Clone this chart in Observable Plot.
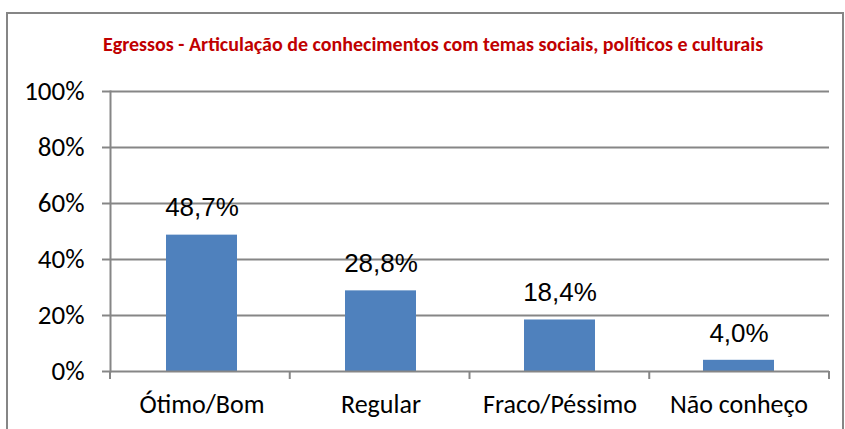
<!DOCTYPE html>
<html><head><meta charset="utf-8">
<script src="https://cdn.jsdelivr.net/npm/d3@7"></script>
<script src="https://cdn.jsdelivr.net/npm/@observablehq/plot@0.6"></script>
<style>body{margin:0;background:#fff}</style>
</head><body><div id="chart"></div>
<script>
const title = "Egressos - Articulação de conhecimentos com temas sociais, políticos e culturais";
const categories = ["Ótimo/Bom", "Regular", "Fraco/Péssimo", "Não conheço"];
const values = [0.487, 0.288, 0.184, 0.040];
const valueLabels = ["48,7%", "28,8%", "18,4%", "4,0%"];
const yTicks = [0, 0.2, 0.4, 0.6, 0.8, 1.0];
const yTickLabels = ["0%", "20%", "40%", "60%", "80%", "100%"];

const data = categories.map((c, i) => ({category: c, value: values[i], label: valueLabels[i]}));

const gray = "#868686";
const calibri = "Carlito, Calibri, Lato, sans-serif";
const arial = "'Liberation Sans', Arial, sans-serif";

const chart = Plot.plot({
  width: 845, height: 429,
  marginLeft: 110, marginRight: 16, marginTop: 91, marginBottom: 58,
  style: {background: "#fff", overflow: "visible"},
  x: {domain: categories, padding: 0, label: null},
  y: {domain: [0, 1], label: null},
  marks: [
    Plot.ruleY(yTicks.slice(1), {stroke: gray, strokeWidth: 2, strokeOpacity: 1}),
    Plot.barY(data, {x: "category", y: "value", fill: "#4F81BD", insetLeft: 54, insetRight: 54}),
    Plot.ruleY([0], {stroke: gray, strokeWidth: 2}),
    Plot.frame({anchor: "left", stroke: gray, strokeWidth: 2}),
    Plot.axisY(yTicks, {
      tickSize: 8, tickPadding: 18, stroke: gray, strokeWidth: 2, fill: "#000",
      tickFormat: d => yTickLabels[yTicks.indexOf(d)],
      fontSize: 27, fontFamily: calibri, label: null
    }),
    Plot.axisX({
      tickSize: 0, tickPadding: 23, fill: "#000",
      fontSize: 26, fontFamily: calibri, label: null
    }),
    Plot.text(data, {
      x: "category", y: "value", text: "label", lineAnchor: "middle", dy: -27,
      fontSize: 26, fontFamily: arial, fill: "#000"
    }),
    Plot.text([title], {
      frameAnchor: "top", dx: -37, dy: -47, lineAnchor: "middle",
      fontSize: 20, fontWeight: "bold", fontFamily: calibri, fill: "#C00000"
    })
  ]
});

document.getElementById("chart").appendChild(chart);

// category boundary ticks below the baseline, from the x scale
const xs = chart.scale("x");
const ys = chart.scale("y");
const svg = d3.select(chart);
const [r0, r1] = xs.range;
const n = xs.domain.length;
const base = ys.apply(0);
svg.append("g").selectAll("line")
  .data(d3.range(n + 1))
  .join("line")
  .attr("x1", i => r0 + i * (r1 - r0) / n)
  .attr("x2", i => r0 + i * (r1 - r0) / n)
  .attr("y1", base).attr("y2", base + 8)
  .attr("stroke", gray).attr("stroke-width", 2);

// outer chart border
svg.append("rect")
  .attr("x", 7).attr("y", 13)
  .attr("width", 836).attr("height", 429)
  .attr("fill", "none").attr("stroke", gray).attr("stroke-width", 2);
</script>
</body></html>
